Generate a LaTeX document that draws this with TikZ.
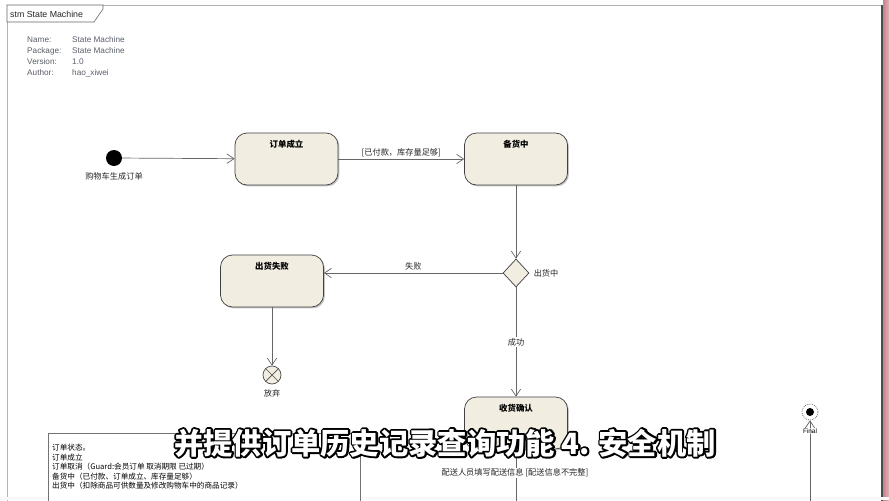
\documentclass[tikz,border=0pt]{standalone}
\usepackage{fontspec}
\setmainfont{Liberation Sans}
\newfontfamily\cjk{Noto Sans CJK SC}
\usetikzlibrary{arrows.meta,shapes.geometric,shadows,positioning}

\definecolor{statefill}{HTML}{F2EDE1}
\definecolor{infogray}{HTML}{5A5F6A}
\definecolor{barpink}{HTML}{C9828A}
\def\px{0.03cm}
\def\outlined#1{\rlap{\special{pdf:literal direct 1 Tr 3.2 w 1 j 0 0 0 RG}#1\special{pdf:literal direct 0 Tr}}#1}

\tikzset{
  state/.style={rectangle, rounded corners=12*\px, draw=black!75, line width=0.6pt,
    fill=statefill, minimum width=103*\px, minimum height=52*\px,
    drop shadow={shadow xshift=1.2pt, shadow yshift=-1.2pt, opacity=0.45},
    label={[anchor=north, yshift=-3*\px, font=\cjk\bfseries\fontsize{7.2}{8}\selectfont]north:#1}},
  trans/.style={line width=0.6pt, color=black!60, -{Straight Barb[length=6pt,width=8pt]}},
  flow/.style={line width=0.6pt, color=black!60},
  lbl/.style={font=\cjk\fontsize{7}{8}\selectfont, inner sep=1pt, text=black!85},
  info/.style={anchor=west, font=\fontsize{7}{8}\selectfont, text=infogray, inner sep=0pt},
  notetxt/.style={anchor=west, font=\cjk\fontsize{6.5}{7}\selectfont, inner sep=0pt},
  subtitle/.style={font=\cjk\bfseries\fontsize{25}{28}\selectfont, inner sep=0pt, text=white}
}

\begin{document}
\begin{tikzpicture}[x=0.03cm,y=-0.03cm]
			%%%%% START %%%%%
			\useasboundingbox (0,0) rectangle (889,500);
			\clip (0,0) rectangle (889,500);
			\fill[white] (0,0) rectangle (889,500);

			% frame and tab
			\draw[line width=0.7pt, color=black!30] (7,505) -- (7,5) -- (882,5);
			\draw[line width=0.9pt, color=black!70] (882,5) -- (882,505);
			\shade[left color=barpink, right color=barpink!60] (883,0) rectangle (889,500);
			\fill[color=green!6!black!3] (0,497) rectangle (889,500);
			\draw[line width=0.5pt, color=black!60, fill=white] (7,5) -- (103,5) -- (103,9) -- (94,22) -- (7,22) -- cycle;
			\node[info, text=black!85, font=\fontsize{7.5}{8}\selectfont] (tab) at (10,14) {stm State Machine};

			\node[info] (nmkey) at (27,40) {Name:};
			\node[info] (nmval) at (72,40) {State Machine};
			\node[info] (pkkey) at (27,51) {Package:};
			\node[info] (pkval) at (72,51) {State Machine};
			\node[info] (vrkey) at (27,62) {Version:};
			\node[info] (vrval) at (72,62) {1.0};
			\node[info] (aukey) at (27,73) {Author:};
			\node[info] (auval) at (72,73) {hao\_xiwei};

			% states
			\node[circle, fill=black, minimum size=16*\px, inner sep=0pt] (init) at (114,158) {};
			\node[lbl, below=5*\px of init] (initlbl) {购物车生成订单};

			\node[state=订单成立] (placed) at (286.5,159) {};
			\node[state=备货中] (stock) at (516,159) {};
			\node[diamond, draw=black!75, line width=0.6pt, fill=statefill, minimum width=26*\px, minimum height=28*\px, inner sep=0pt] (ship) at (516,273) {};
			\node[lbl, right=3*\px of ship] (shiplbl) {出货中};
			\node[state=出货失败] (failed) at (272,281) {};
			\node[circle, draw=black!70, line width=0.6pt, fill=statefill, minimum size=18*\px, inner sep=0pt] (giveup) at (272,375) {};
			\draw[line width=0.6pt, color=black!70] (giveup.45) -- (giveup.225) (giveup.135) -- (giveup.315);
			\node[lbl, below=4*\px of giveup] (giveuplbl) {放弃};
			\node[state=收货确认] (confirm) at (516,423) {};

			\node[circle, draw=black!70, densely dotted, line width=0.6pt, fill=white, minimum size=16*\px, inner sep=0pt] (final) at (810,412) {};
			\fill[black] (final) circle (4);
			\coordinate (finalbot) at (810,505);
			\coordinate (confirmbot) at (516,505);

			% transitions
			\draw[trans] (init) -- (placed);
			\draw[trans] (placed) -- node[lbl, above=1*\px] (paid) {[已付款，库存量足够]} (stock);
			\draw[trans] (stock) -- (ship);
			\draw[trans] (ship.west) -- node[lbl, above=1*\px] (faillbl) {失败} (failed.east |- ship.west);
			\draw[trans] (failed) -- (giveup);
			\draw[trans] (ship) -- node[lbl, fill=white] (oklbl) {成功} (confirm);
			\draw[flow] (confirm) -- (confirmbot);
			\draw[trans] (finalbot) -- (final);
			\node[font=\fontsize{5.5}{6}\selectfont, inner sep=0.5pt, fill=white, fill opacity=0.6, text opacity=1] (finallbl) at (810,431) {Final};
			\node[lbl, fill=white] (deliver) at (515,473) {配送人员填写配送信息 [配送信息不完整]};

			% note
			\draw[line width=0.6pt, color=black!55, fill=white] (48,433) rectangle (360,510);
			\node[notetxt] (n1) at (52,448) {订单状态。};
			\node[notetxt] (n2) at (52,457.5) {订单成立};
			\node[notetxt] (n3) at (52,467) {订单取消（Guard:会员订单 取消期限 已过期）};
			\node[notetxt] (n4) at (52,476.5) {备货中（已付款、订单成立、库存量足够）};
			\node[notetxt] (n5) at (52,486) {出货中（扣除商品可供数量及修改购物车中的商品记录）};

			% subtitle
			\node[subtitle] (sub) at (445,443) {\outlined{并提供订单历史记录查询功能 4. 安全机制}};
			%%%%% END %%%%%
\end{tikzpicture}
\end{document}
